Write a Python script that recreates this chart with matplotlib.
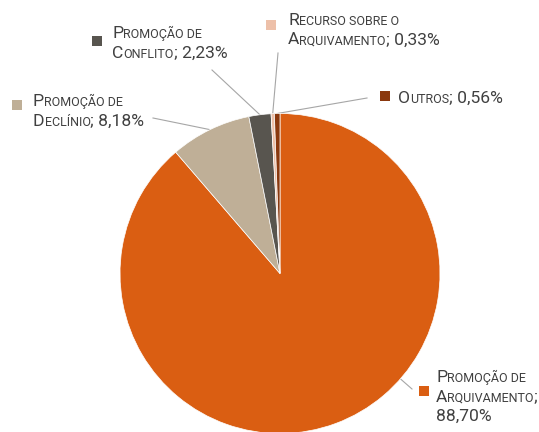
import numpy as np
import matplotlib.pyplot as plt

# data
labels = ["Promoção de Arquivamento", "Promoção de Declínio", "Promoção de Conflito",
          "Recurso sobre o Arquivamento", "Outros"]
values = [88.70, 8.18, 2.23, 0.33, 0.56]
colors = ["#DA5E12", "#BFAF97", "#58554F", "#EDC0A9", "#8A380E"]

# label layout (pixel coords, y down): text lines, text left, first cap top, marker center, leader anchor
label_lines = [
    ["Promoção de", "Arquivamento;", "88,70%"],
    ["Promoção de", "Declínio; 8,18%"],
    ["Promoção de", "Conflito; 2,23%"],
    ["Recurso sobre o", "Arquivamento; 0,33%"],
    ["Outros; 0,56%"],
]
text_left = [436, 33, 112, 288, 398]
text_top = [369, 93, 25, 12, 90]
marker_xy = [(423.5, 391), (17, 105), (96.5, 40.5), (271, 24.5), (384.5, 95.5)]
leader_xy = [(412, 389), (153, 118), (212, 70), (278, 53), (367, 98)]

W, H = 539, 432
CX, CY, R = 280, 273.5, 160
BIG, SMALL = 12.6, 9.0
LINE_GAP = 19.5
CAP = 13
TXT = "#404040"
plt.rcParams['font.family'] = ['Roboto', 'DejaVu Sans']

fig = plt.figure(figsize=(W / 100, H / 100), dpi=100)
ax = fig.add_axes([0, 0, 1, 1])
wedges, _ = ax.pie(values, colors=colors, startangle=90, counterclock=False,
                   radius=R, center=(CX, H - CY),
                   wedgeprops=dict(edgecolor="white", linewidth=0.5))
ax.set_xlim(0, W)
ax.set_ylim(0, H)
ax.set_aspect("equal")
ax.axis("off")

renderer = fig.canvas.get_renderer()


def runs(s):
    # split text into (string, size) runs emulating small caps
    out = []
    for ch in s:
        if ch.islower():
            piece, size = ch.upper(), SMALL
        else:
            piece, size = ch, BIG
        if ch == " " and out:
            size = out[-1][1]
        if out and out[-1][1] == size:
            out[-1] = (out[-1][0] + piece, size)
        else:
            out.append((piece, size))
    return out


def draw_sc(x, ybase, s):
    for piece, size in runs(s):
        t = ax.text(x, H - ybase, piece, fontsize=size, color=TXT,
                    ha="left", va="baseline")
        x += t.get_window_extent(renderer).width


for i, lines in enumerate(label_lines):
    for j, line in enumerate(lines):
        draw_sc(text_left[i], text_top[i] + CAP + j * LINE_GAP, line)
    mx, my = marker_xy[i]
    ax.scatter([mx], [H - my], marker="s", s=42, color=colors[i], linewidths=0)

    # leader line from the wedge to the label
    w = wedges[i]
    th1, th2 = w.theta1, w.theta2
    lx, ly = leader_xy[i]
    if values[i] > 50:
        ang = np.degrees(np.arctan2(CY - ly, lx - CX))
        while ang < th1:
            ang += 360
    else:
        ang = (th1 + th2) / 2
    px = CX + R * np.cos(np.radians(ang))
    py = (H - CY) + R * np.sin(np.radians(ang))
    ax.plot([px, lx], [py, H - ly], color="#A6A6A6", lw=0.8, zorder=0.5)

fig.savefig("out.png", dpi=100)
